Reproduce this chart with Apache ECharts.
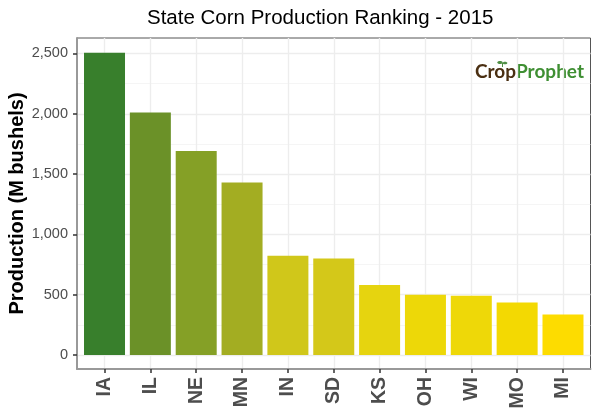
<!DOCTYPE html>
<html>
<head>
<meta charset="utf-8">
<style>
  html, body { margin: 0; background: #fff; }
  #chart { width: 600px; height: 420px; }
</style>
<script src="https://cdn.jsdelivr.net/npm/echarts@6/dist/echarts.min.js"></script>
</head>
<body>
<div id="chart"></div>
<script>
const states = ['IA', 'IL', 'NE', 'MN', 'IN', 'SD', 'KS', 'OH', 'WI', 'MO', 'MI'];
const production = [2505, 2010, 1692, 1430, 822, 800, 580, 500, 492, 435, 335];
const barColors = ['#387f2c', '#6b9128', '#85a026', '#a3ad22', '#d0c71a', '#d4c819', '#e6d40f', '#edd808', '#eed808', '#f3d902', '#fddc00'];
const positions = [1, 2, 3, 4, 5, 6, 7, 8, 9, 10, 11];
const yTicks = [0, 500, 1000, 1500, 2000, 2500];
const yMinorTicks = [250, 750, 1250, 1750, 2250];

const chart = echarts.init(document.getElementById('chart'), null, { renderer: 'canvas' });
const font = 'Liberation Sans';

chart.setOption({
  animation: false,
  backgroundColor: '#fff',
  textStyle: { fontFamily: font },
  title: {
    text: 'State Corn Production Ranking - 2015',
    left: 142,
    top: 3,
    textStyle: { fontFamily: font, fontSize: 20.5, fontWeight: 'normal', color: '#000' }
  },
  grid: {
    left: 77, right: 9.5, top: 38, bottom: 51,
    outerBoundsMode: 'none', // keep the panel where it is, labels may sit near the edge
    show: true, borderColor: '#555', borderWidth: 1, backgroundColor: '#fff'
  },
  xAxis: {
    type: 'value',
    min: 0.4,
    max: 11.6,
    containShape: false,
    axisLine: { show: true, onZero: false, lineStyle: { color: '#999', width: 2 } },
    axisTick: { show: true, customValues: positions, length: 4, lineStyle: { color: '#333', width: 1.5 } },
    axisLabel: {
      customValues: positions,
      rotate: 90,
      margin: 8,
      fontFamily: font,
      fontSize: 19.5,
      fontWeight: 'bold',
      color: '#4d4d4d',
      formatter: v => states[v - 1]
    },
    splitLine: { show: true, lineStyle: { color: '#ededed', width: 1.4 } }
  },
  yAxis: [{
    type: 'value',
    min: -116,
    max: 2628,
    containShape: false,
    name: 'Production (M bushels)',
    nameLocation: 'middle',
    nameGap: 50,
    nameMoveOverlap: false,
    nameTextStyle: { fontFamily: font, fontSize: 20, fontWeight: 'bold', color: '#000' },
    axisLine: { show: true, lineStyle: { color: '#999', width: 2 } },
    axisTick: { show: true, customValues: yTicks, length: 4, lineStyle: { color: '#333', width: 1.5 } },
    axisLabel: {
      customValues: yTicks,
      margin: 9,
      fontFamily: font,
      fontSize: 14.5,
      color: '#4d4d4d',
      formatter: v => v.toLocaleString('en-US')
    },
    splitLine: { show: true, lineStyle: { color: '#ededed', width: 1.4 } }
  }, {
    // thin minor grid between the labelled ticks
    type: 'value',
    min: -116,
    max: 2628,
    containShape: false,
    position: 'left',
    axisLine: { show: false },
    axisLabel: { show: false, customValues: yMinorTicks },
    axisTick: { show: false, customValues: yMinorTicks },
    splitLine: { show: true, lineStyle: { color: '#f3f3f3', width: 0.8 } }
  }],
  series: [{
    type: 'bar',
    barWidth: 41,
    data: production.map((v, i) => ({
      value: [positions[i], v],
      itemStyle: { color: barColors[i] }
    }))
  }],
  graphic: [{
    type: 'text',
    left: 475,
    top: 62,
    style: { text: 'Crop', fontFamily: 'Lato', fontSize: 19, fontWeight: 'bold', fill: '#4a2f12' }
  }, {
    type: 'text',
    left: 516,
    top: 62,
    style: { text: 'Prophet', fontFamily: 'Lato', fontSize: 19, fontWeight: 'bold', fill: '#3f8f33' }
  }, {
    // sprout on the logo's "o"
    type: 'ellipse',
    shape: { cx: 500, cy: 62.5, rx: 2.8, ry: 1.5 },
    style: { fill: '#4f8f45' }
  }, {
    type: 'ellipse',
    shape: { cx: 505, cy: 63, rx: 2.4, ry: 1.3 },
    style: { fill: '#4f8f45' }
  }, {
    type: 'line',
    shape: { x1: 502.5, y1: 63, x2: 502.5, y2: 67 },
    style: { stroke: '#4f8f45', lineWidth: 1 }
  }]
});
</script>
</body>
</html>
